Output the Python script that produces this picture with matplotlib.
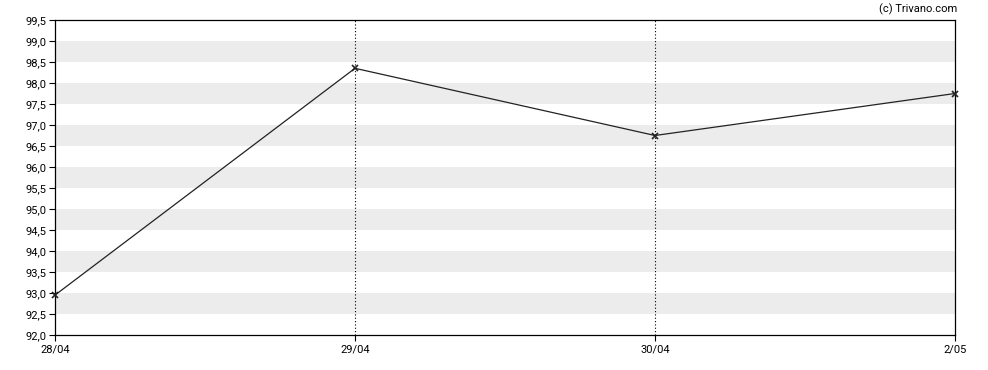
"""Trivano price chart, 28/04 - 2/05."""
import numpy as np
import matplotlib.pyplot as plt
import matplotlib as mpl

# Data
dates = ["28/04", "29/04", "30/04", "2/05"]
prices = [92.95, 98.35, 96.75, 97.75]
y_min, y_max, y_step = 92.0, 99.5, 0.5

mpl.rcParams.update({
    "font.family": ["Roboto", "DejaVu Sans"],
    "font.size": 8,
})

fig = plt.figure(figsize=(9.88, 3.70), dpi=100)
W, H = 988, 370
ax = fig.add_axes([55 / W, (H - 335) / H, 900 / W, 315 / H])

x = np.arange(len(dates))

# alternating grey bands
ticks = np.arange(y_min, y_max + 1e-9, y_step)
for lo in np.arange(y_min + y_step, y_max, 2 * y_step):
    ax.axhspan(lo, lo + y_step, color="#ececec", lw=0, zorder=0)

# dotted vertical lines at the inner dates
for xi in x[1:-1]:
    ax.axvline(xi, color="black", lw=0.8, ls=(0, (1, 2)), zorder=1)

ax.plot(x, prices, color="#222222", lw=0.9, marker="x", ms=4, mew=1.2,
        zorder=3, clip_on=False)

ax.set_xlim(x[0], x[-1])
ax.set_ylim(y_min, y_max)
ax.set_yticks(ticks)
ax.set_yticklabels([f"{t:.1f}".replace(".", ",") for t in ticks])
ax.set_xticks(x)
ax.set_xticklabels(dates)
ax.tick_params(axis="both", length=4, width=0.8, colors="black", labelsize=8)
ax.tick_params(axis="y", pad=2)
ax.tick_params(axis="x", pad=3)

for s in ax.spines.values():
    s.set_linewidth(0.9)
    s.set_color("black")

fig.text(957 / W, 1 - 9 / H, "(c) Trivano.com", ha="right", va="center",
         fontsize=8)

fig.savefig("out.png", dpi=100)
